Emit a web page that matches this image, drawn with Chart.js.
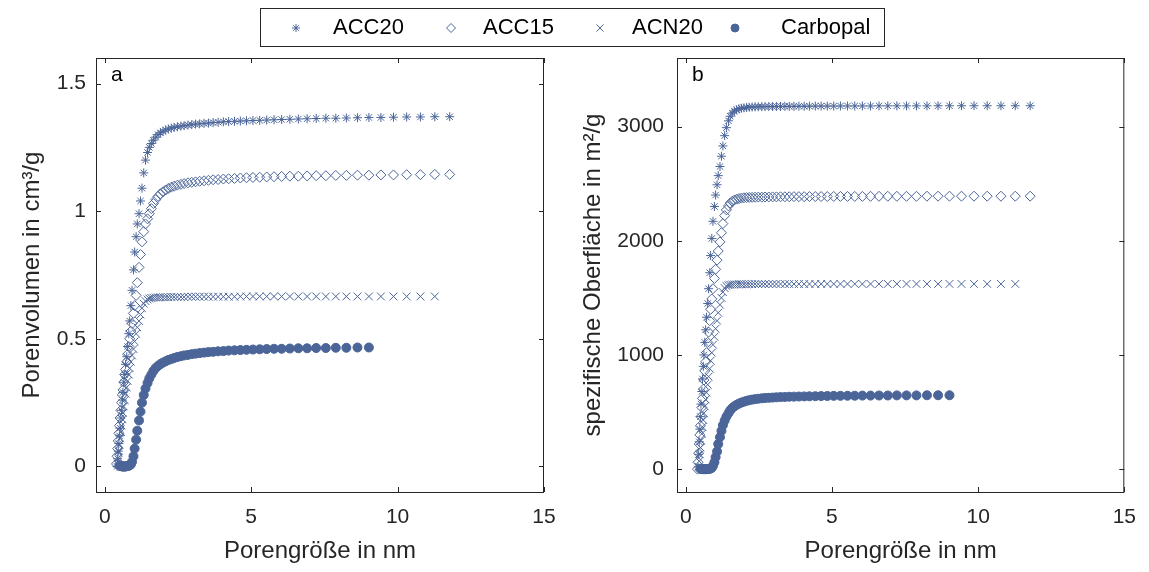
<!DOCTYPE html>
<html>
<head>
<meta charset="utf-8">
<script src="https://cdn.jsdelivr.net/npm/chart.js@4/dist/chart.umd.min.js"></script>
<style>
  body { margin: 0; background: #fff; width: 1149px; height: 572px; overflow: hidden; position: relative; }
  canvas { position: absolute; top: 0; }
  #leftChart { left: 0; }
  #rightChart { left: 575px; }
  #legendBar { left: 0; }
</style>
</head>
<body>
<canvas id="leftChart" width="575" height="572"></canvas>
<canvas id="rightChart" width="574" height="572"></canvas>
<canvas id="legendBar" width="1149" height="56"></canvas>
<script>
// pore size grid (nm), shared by all samples
const poreSize = [0.40,0.42,0.44,0.46,0.48,0.50,0.52,0.55,0.57,0.60,
  0.62,0.65,0.68,0.71,0.75,0.78,0.82,0.85,0.89,0.93,
  0.98,1.02,1.07,1.11,1.17,1.22,1.27,1.33,1.39,1.46,
  1.52,1.59,1.66,1.74,1.82,1.90,1.99,2.08,2.17,2.27,
  2.37,2.48,2.60,2.71,2.84,2.97,3.10,3.24,3.39,3.54,
  3.70,3.87,4.05,4.23,4.43,4.63,4.84,5.06,5.29,5.53,
  5.78,6.04,6.32,6.61,6.91,7.22,7.55,7.89,8.25,8.63,
  9.02,9.43,9.86,10.31,10.78,11.27,11.78];

const seriesNames = ['ACC20', 'ACC15', 'ACN20', 'Carbopal'];

// cumulative pore volume (cm3/g)
const volACC20 = [null,0.00,0.03,0.06,0.09,0.12,0.15,0.19,0.22,0.26,
  0.29,0.33,0.36,0.40,0.43,0.47,0.52,0.57,0.63,0.69,
  0.77,0.84,0.90,0.95,0.99,1.04,1.09,1.15,1.20,1.23,
  1.25,1.265,1.278,1.29,1.30,1.307,1.313,1.318,1.322,1.325,
  1.328,1.331,1.333,1.335,1.337,1.339,1.341,1.342,1.344,1.345,
  1.347,1.348,1.35,1.351,1.352,1.353,1.354,1.355,1.356,1.357,
  1.358,1.359,1.36,1.361,1.362,1.363,1.364,1.364,1.365,1.366,
  1.367,1.367,1.368,1.369,1.369,1.37,1.37];
const volACC15 = [0.01,0.04,0.07,0.10,0.13,0.16,0.19,0.22,0.25,0.28,
  0.30,0.33,0.36,0.38,0.41,0.44,0.47,0.50,0.53,0.56,
  0.60,0.63,0.67,0.72,0.78,0.83,0.88,0.92,0.95,0.97,
  0.99,1.01,1.03,1.045,1.058,1.068,1.076,1.083,1.089,1.094,
  1.098,1.102,1.105,1.108,1.111,1.113,1.115,1.117,1.119,1.121,
  1.123,1.124,1.126,1.127,1.128,1.13,1.131,1.132,1.133,1.134,
  1.135,1.136,1.137,1.137,1.138,1.139,1.139,1.14,1.14,1.141,
  1.141,1.142,1.142,1.143,1.143,1.144,1.144];
const volACN20 = [null,null,0.01,0.035,0.06,0.085,0.11,0.135,0.16,0.185,
  0.21,0.235,0.26,0.285,0.31,0.335,0.36,0.385,0.41,0.435,
  0.46,0.49,0.52,0.545,0.57,0.595,0.62,0.638,0.648,0.654,
  0.658,0.66,0.661,0.662,0.662,0.663,0.663,0.663,0.663,0.664,
  0.664,0.664,0.664,0.664,0.665,0.665,0.665,0.665,0.665,0.665,
  0.665,0.665,0.665,0.665,0.665,0.666,0.666,0.666,0.666,0.666,
  0.666,0.666,0.666,0.666,0.666,0.666,0.666,0.666,0.666,0.666,
  0.666,0.666,0.666,0.666,0.666,0.666,null];
const volCarbopal = [null,null,null,null,null,0.004,0.003,0.002,0.001,0.0,
  0.0,0.0,0.0,0.0,0.001,0.002,0.003,0.005,0.008,0.018,
  0.04,0.07,0.105,0.14,0.18,0.215,0.25,0.28,0.305,0.327,
  0.345,0.36,0.374,0.386,0.394,0.401,0.407,0.412,0.417,0.421,
  0.425,0.429,0.432,0.435,0.437,0.44,0.442,0.444,0.446,0.448,
  0.449,0.451,0.452,0.454,0.455,0.456,0.457,0.458,0.459,0.46,
  0.461,0.461,0.462,0.463,0.463,0.464,0.464,0.465,0.465,0.466,
  0.466,null,null,null,null,null,null];

// cumulative specific surface area (m2/g)
const areaACC20 = [null,20,130,240,350,460,570,680,790,900,
  1000,1110,1220,1330,1450,1580,1720,1870,2020,2170,
  2300,2400,2490,2570,2650,2740,2830,2920,2990,3050,
  3090,3118,3135,3147,3155,3160,3164,3167,3169,3171,
  3172,3173,3174,3174,3175,3175,3176,3176,3177,3177,
  3177,3178,3178,3178,3179,3179,3179,3179,3180,3180,
  3180,3180,3180,3181,3181,3181,3181,3181,3181,3182,
  3182,3182,3182,3182,3182,3182,3182];
const areaACC15 = [0,60,140,220,300,380,460,540,620,700,
  780,860,940,1020,1110,1200,1300,1400,1490,1580,
  1670,1750,1830,1910,1990,2070,2150,2220,2270,2305,
  2330,2345,2356,2364,2369,2373,2376,2378,2379,2380,
  2381,2382,2382,2383,2383,2384,2384,2385,2385,2385,
  2386,2386,2386,2387,2387,2387,2387,2388,2388,2388,
  2388,2388,2389,2389,2389,2389,2389,2389,2390,2390,
  2390,2390,2390,2390,2390,2390,2390];
const areaACN20 = [null,null,20,70,130,190,250,310,370,430,
  490,550,610,670,740,810,880,950,1020,1090,
  1160,1230,1300,1370,1440,1500,1550,1585,1603,1611,
  1615,1617,1618,1618,1619,1619,1619,1619,1620,1620,
  1620,1620,1620,1620,1621,1621,1621,1621,1621,1621,
  1621,1621,1621,1621,1621,1622,1622,1622,1622,1622,
  1622,1622,1622,1622,1622,1622,1622,1622,1622,1622,
  1622,1622,1622,1622,1622,1622,null];
const areaCarbopal = [null,null,null,null,null,4,3,2,1,0,
  0,0,0,0,1,2,4,6,12,28,
  60,105,155,220,280,335,385,425,460,490,
  515,535,550,563,574,583,591,598,604,609,
  613,617,620,623,625,627,629,631,632,634,
  635,636,637,638,639,640,641,642,642,643,
  643,644,644,645,645,646,646,646,647,647,
  647,null,null,null,null,null,null];

// tick labels
const xTicks = [0, 5, 10, 15];
const volTicks = [0, 0.5, 1, 1.5];
const areaTicks = [0, 1000, 2000, 3000];

const markerColor = '#4b6599';
const axisColor = '#262626';
const fontFamily = '"Liberation Sans", Arial, sans-serif';

const markerStyles = [
  { pointStyle: 'star', radius: 4.5, fill: 'rgba(0,0,0,0)' },
  { pointStyle: 'rectRot', radius: 5, fill: 'rgba(0,0,0,0)' },
  { pointStyle: 'crossRot', radius: 5.5, fill: 'rgba(0,0,0,0)' },
  { pointStyle: 'circle', radius: 4.5, fill: markerColor }
];

function toPoints(ys) {
  const pts = [];
  poreSize.forEach((x, i) => {
    if (ys[i] !== null) pts.push({ x: x, y: ys[i] });
  });
  return pts;
}

function makeDatasets(seriesList) {
  return seriesList.map((ys, k) => ({
    label: seriesNames[k],
    data: toPoints(ys),
    pointStyle: markerStyles[k].pointStyle,
    pointRadius: markerStyles[k].radius,
    pointBorderWidth: 1,
    borderColor: markerColor,
    backgroundColor: markerStyles[k].fill,
    showLine: false
  }));
}

// box with inward ticks on all four sides + panel letter
const framePlugin = {
  id: 'frame',
  afterDraw(chart, args, opts) {
    const { ctx, chartArea: a, scales } = chart;
    ctx.save();
    ctx.strokeStyle = axisColor;
    ctx.lineWidth = 1;
    ctx.strokeRect(a.left + 0.5, a.top + 0.5, a.right - a.left - 1, a.bottom - a.top);
    ctx.beginPath();
    scales.x.ticks.forEach(t => {
      const px = Math.round(scales.x.getPixelForValue(t.value)) + 0.5;
      ctx.moveTo(px, a.bottom); ctx.lineTo(px, a.bottom - 5);
      ctx.moveTo(px, a.top); ctx.lineTo(px, a.top + 5);
    });
    scales.y.ticks.forEach(t => {
      const py = Math.round(scales.y.getPixelForValue(t.value)) + 0.5;
      ctx.moveTo(a.left, py); ctx.lineTo(a.left + 5, py);
      ctx.moveTo(a.right, py); ctx.lineTo(a.right - 5, py);
    });
    ctx.stroke();
    ctx.fillStyle = '#000';
    ctx.font = '21px ' + fontFamily;
    ctx.textBaseline = 'middle';
    ctx.fillText(opts.letter, a.left + 15, a.top + 17);
    ctx.restore();
  }
};

function makeChart(canvasId, seriesList, yMin, yMax, yTicks, yTitle, pad, yWidth, yTitlePad, yTickPad, letter) {
  return new Chart(document.getElementById(canvasId), {
    type: 'scatter',
    data: { datasets: makeDatasets(seriesList) },
    options: {
      responsive: false,
      animation: false,
      events: [],
      layout: { padding: pad },
      plugins: { legend: { display: false }, tooltip: { enabled: false }, frame: { letter: letter } },
      scales: {
        x: {
          type: 'linear', min: -0.3, max: 15,
          afterBuildTicks: s => { s.ticks = xTicks.map(v => ({ value: v })); },
          afterFit: s => { s.height = 80; },
          grid: { display: false, drawTicks: false },
          border: { display: false },
          ticks: { color: axisColor, font: { family: fontFamily, size: 21 }, padding: 13, maxRotation: 0, autoSkip: false, callback: v => String(v) },
          title: { display: true, text: 'Porengröße in nm', color: axisColor, font: { family: fontFamily, size: 24 }, padding: { top: 0, bottom: 6 } }
        },
        y: {
          type: 'linear', min: yMin, max: yMax,
          afterBuildTicks: s => { s.ticks = yTicks.map(v => ({ value: v })); },
          afterFit: s => { s.width = yWidth; },
          grid: { display: false, drawTicks: false },
          border: { display: false },
          ticks: { color: axisColor, font: { family: fontFamily, size: 21 }, padding: yTickPad, autoSkip: false, callback: v => String(v) },
          title: { display: true, text: yTitle, color: axisColor, font: { family: fontFamily, size: 24 }, padding: { top: yTitlePad, bottom: 0 } }
        }
      }
    },
    plugins: [framePlugin]
  });
}

makeChart('leftChart', [volACC20, volACC15, volACN20, volCarbopal], -0.1, 1.6, volTicks,
  'Porenvolumen in cm³/g', { top: 58, right: 31, bottom: 0, left: 0 }, 96, 18, 10, 'a');
makeChart('rightChart', [areaACC20, areaACC15, areaACN20, areaCarbopal], -200, 3600, areaTicks,
  'spezifische Oberfläche in m²/g', { top: 58, right: 24, bottom: 0, left: 0 }, 102, 4, 13, 'b');

// shared legend on top
(function drawLegend() {
  const c = document.getElementById('legendBar');
  const ctx = c.getContext('2d');
  ctx.strokeStyle = axisColor;
  ctx.lineWidth = 1;
  ctx.strokeRect(260.5, 8.5, 624, 38);
  const markerX = [296, 451, 600, 735];
  const textX = [333, 483, 632, 781];
  ctx.font = '22px ' + fontFamily;
  ctx.textBaseline = 'middle';
  seriesNames.forEach((name, k) => {
    ctx.save();
    ctx.strokeStyle = markerColor;
    ctx.fillStyle = markerStyles[k].fill;
    ctx.lineWidth = 1;
    Chart.helpers.drawPoint(ctx, { pointStyle: markerStyles[k].pointStyle, radius: markerStyles[k].radius - 0.5, borderWidth: 1, rotation: 0 }, markerX[k], 28);
    ctx.restore();
    ctx.fillStyle = '#000';
    ctx.fillText(name, textX[k], 28);
  });
})();
</script>
</body>
</html>
